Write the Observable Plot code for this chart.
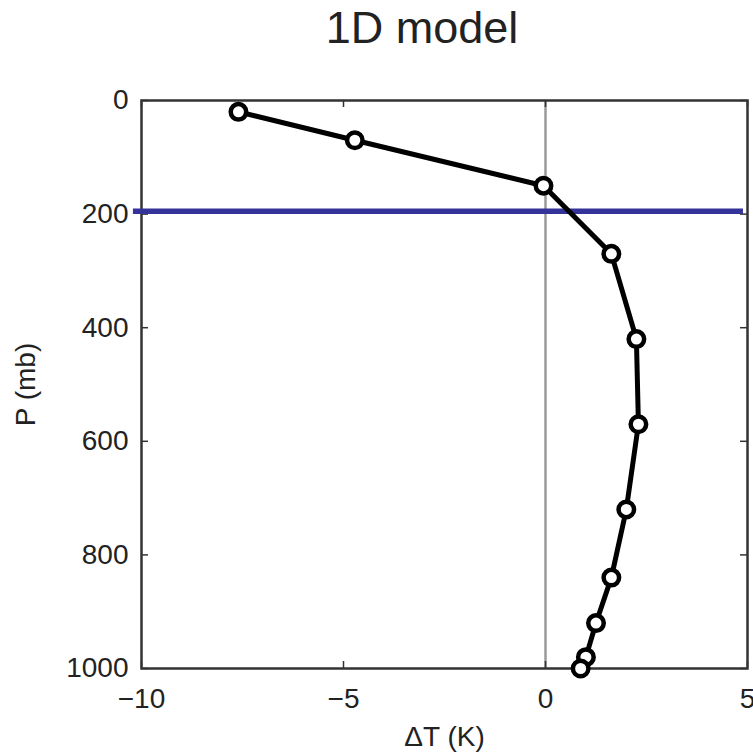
<!DOCTYPE html>
<html><head><meta charset="utf-8">
<script src="https://cdn.jsdelivr.net/npm/d3@7"></script>
<script src="https://cdn.jsdelivr.net/npm/@observablehq/plot@0.6"></script>
<style>
body{margin:0;background:#fff;font-family:"Liberation Sans",Arial,sans-serif;width:753px;height:753px;overflow:hidden;}
#head{position:relative;height:75px;width:753px;}
#title{position:absolute;left:422px;top:5px;transform:translateX(-50%);font-size:45px;line-height:1;color:#222;white-space:nowrap;}
</style></head><body>
<div id="head"><div id="title">1D model</div></div>
<div id="chart"></div>
<script>
const pressure = [20, 70, 150, 270, 420, 570, 720, 840, 920, 980, 1000];
const deltaT = [-7.6, -4.72, -0.05, 1.63, 2.25, 2.3, 2.0, 1.63, 1.25, 1.0, 0.87];
const xTicks = [-10, -5, 0, 5];
const yTicks = [0, 200, 400, 600, 800, 1000];
const zeroLine = [0];
const tropopause = [195];
const tropopauseFrom = -10.2;
const tropopauseTo = 4.9;

const data = pressure.map((p, i) => ({p, dT: deltaT[i]}));

const W = 753, H = 678, mT = 25, mB = 85, mL = 141, mR = 6;
const plotW = W - mL - mR, plotH = H - mT - mB, tick = 7;
const fmt = d3.format("d");

const plot = Plot.plot({
  width: W, height: H,
  marginTop: mT, marginBottom: mB, marginLeft: mL, marginRight: mR,
  style: {fontFamily: "Liberation Sans, Arial, sans-serif", fontSize: "28px", color: "#222", background: "white", overflow: "visible"},
  x: {domain: [-10, 5]},
  y: {domain: [0, 1000], reverse: true},
  marks: [
    Plot.ruleX(zeroLine, {stroke: "#9a9a9a", strokeWidth: 2.5}),
    Plot.axisX(xTicks, {anchor: "bottom", tickSize: 0, tickPadding: 20, tickFormat: fmt, label: "ΔT (K)", labelAnchor: "center", labelOffset: 77, labelArrow: "none"}),
    Plot.axisY(yTicks, {anchor: "left", tickSize: 0, tickPadding: 13, tickFormat: fmt, label: "P (mb)", labelAnchor: "center", labelOffset: 126, labelArrow: "none"}),
    Plot.ruleX(xTicks, {insetBottom: plotH - tick, stroke: "#333", strokeWidth: 1.5}),
    Plot.ruleX(xTicks, {insetTop: plotH - tick, stroke: "#333", strokeWidth: 1.5}),
    Plot.ruleY(yTicks, {insetRight: plotW - tick, stroke: "#333", strokeWidth: 1.5}),
    Plot.ruleY(yTicks, {insetLeft: plotW - tick, stroke: "#333", strokeWidth: 1.5}),
    Plot.frame({stroke: "#333", strokeWidth: 2.5}),
    Plot.ruleY(tropopause, {x1: tropopauseFrom, x2: tropopauseTo, stroke: "#333399", strokeWidth: 5.5}),
    Plot.line(data, {x: "dT", y: "p", stroke: "black", strokeWidth: 5}),
    Plot.dot(data, {x: "dT", y: "p", r: 7.75, fill: "white", stroke: "black", strokeWidth: 4.5})
  ]
});
document.getElementById("chart").appendChild(plot);
</script>
</body></html>
